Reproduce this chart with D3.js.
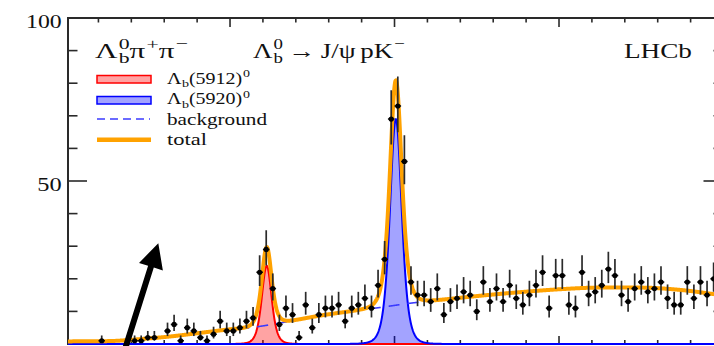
<!DOCTYPE html>
<html>
<head>
<meta charset="utf-8">
<script src="https://cdn.jsdelivr.net/npm/d3@7/dist/d3.min.js"></script>
<style>
  html, body { margin: 0; padding: 0; background: #fff; overflow: hidden; }
  text { font-family: "Liberation Serif", "DejaVu Serif", serif; fill: #111; }
</style>
</head>
<body>
<svg id="chart" width="714" height="346"></svg>
<script>
// ---- histogram of m(Λb0 π+ π−): 0.4 MeV bins starting at 5900.0 MeV ----
const binLow = 5900.0;
const binWidth = 0.4;
const counts = [
  null, null, null, null, null, 1, null, null, null, null,
  1, 1, 2, 2, null, 4, 6, 1, 5, 4,
  2, 1, 3, 7, 4, 4, 5, 7, 8, 22,
  29, 17, 6, 11, 9, 2, 12, 5, 9, 11,
  11, 12, 7, 11, 12, 14, 11, 18, 26, 69,
  73, 56, 19, 15, 15, 13, 17, 9, 13, 14,
  16, 15, 10, 19, 13, 17, 13, 18, 14, 12,
  15, 18, 22, 11, 21, 21, 12, 11, 22, 15,
  16, 18, 23, 21, 15, 13, 17, 19, 16, 17,
  19, 14, 12, 12, 19, 14, 19, 15, 20
];

// ---- fit: smooth background (knots) + two narrow signal peaks ----
const bgMass  = [5900.15, 5902.70, 5904.53, 5906.35, 5908.17, 5910.00, 5911.21, 5912.55,
                 5913.65, 5915.47, 5917.29, 5919.12, 5920.94, 5922.76, 5925.20, 5927.63,
                 5930.06, 5932.49, 5934.92, 5937.35, 5940.00];
const bgYield = [0.8, 0.9, 1.5, 2.3, 3.4, 4.5, 5.0, 6.0,
                 7.0, 8.7, 10.0, 11.2, 12.5, 13.5, 14.8, 15.9,
                 16.8, 17.3, 17.3, 16.6, 14.9];
const peakNames  = ["Λb(5912)0", "Λb(5920)0"];
const peakMass   = [5912.23, 5920.08];
const peakHeight = [24, 69];
const peakWidth  = [0.69, 0.83];

// ---- axis ticks ----
const yMajor = [0, 50, 100];
const yLabels = ["100", "50"];
const yMinor = [10, 20, 30, 40, 60, 70, 80, 90];
const xMajor = [5910, 5920, 5930];
const xMinor = [5902, 5904, 5906, 5908, 5912, 5914, 5916, 5918, 5922, 5924, 5926, 5928,
                5932, 5934, 5936, 5938];

// ---- annotation arrow (tail, tip) in mass / yield units ----
const arrowTail = [5903.62, -1.5];
const arrowTip  = [5905.64, 30.9];

const svg = d3.select("#chart");
const L = 68, R = 723.5, T = 18, B = 344;
const x = d3.scaleLinear().domain([5900.15, 5940]).range([L, R]);
const y = d3.scaleLinear().domain([0, 100]).range([B, T]);

svg.append("defs").append("clipPath").attr("id", "plotclip")
  .append("rect").attr("x", L).attr("y", T - 2).attr("width", R - L).attr("height", B - T + 4);

// monotone cubic interpolation of the background knots
function makeMonotone(xs, ys) {
  const n = xs.length, d = [], m = new Array(n);
  for (let i = 0; i < n - 1; i++) d.push((ys[i + 1] - ys[i]) / (xs[i + 1] - xs[i]));
  m[0] = d[0]; m[n - 1] = d[n - 2];
  for (let i = 1; i < n - 1; i++) m[i] = (d[i - 1] * d[i] <= 0) ? 0 : (d[i - 1] + d[i]) / 2;
  for (let i = 0; i < n - 1; i++) {
    if (d[i] === 0) { m[i] = m[i + 1] = 0; continue; }
    const a = m[i] / d[i], b = m[i + 1] / d[i], s = a * a + b * b;
    if (s > 9) { const t = 3 / Math.sqrt(s); m[i] = t * a * d[i]; m[i + 1] = t * b * d[i]; }
  }
  return v => {
    let i = d3.bisectRight(xs, v) - 1;
    i = Math.max(0, Math.min(n - 2, i));
    const h = xs[i + 1] - xs[i], t = (v - xs[i]) / h;
    const t2 = t * t, t3 = t2 * t;
    return (2 * t3 - 3 * t2 + 1) * ys[i] + (t3 - 2 * t2 + t) * h * m[i] +
           (-2 * t3 + 3 * t2) * ys[i + 1] + (t3 - t2) * h * m[i + 1];
  };
}
const bgFn = makeMonotone(bgMass, bgYield);
const peakFn = (i, m) => peakHeight[i] * Math.pow(1 + Math.pow((m - peakMass[i]) / peakWidth[i], 2), -3);

const grid = d3.range(5900.15, 5940.001, 0.02);
const curve = grid.map(m => ({ m, bg: bgFn(m), s0: peakFn(0, m), s1: peakFn(1, m) }));

// ---- frame and ticks ----
const frame = svg.append("g");
const tickColor = "#2a2a2a";
function ticks(vals, orient, len) {
  vals.forEach(v => {
    let x1, y1, x2, y2;
    if (orient === "left")   { x1 = L; x2 = L + len; y1 = y2 = y(v); }
    if (orient === "right")  { x1 = R; x2 = R - len; y1 = y2 = y(v); }
    if (orient === "top")    { y1 = T; y2 = T + len; x1 = x2 = x(v); }
    if (orient === "bottom") { y1 = B; y2 = B - len; x1 = x2 = x(v); }
    frame.append("line").attr("x1", x1).attr("y1", y1).attr("x2", x2).attr("y2", y2)
      .attr("stroke", tickColor).attr("stroke-width", 1.6);
  });
}
ticks(yMajor, "left", 19); ticks(yMinor, "left", 9.5);
ticks(yMajor, "right", 20); ticks(yMinor, "right", 10);
ticks(xMajor, "top", 9); ticks(xMinor, "top", 4.5);
ticks(xMajor, "bottom", 8); ticks(xMinor, "bottom", 4);
frame.append("rect").attr("x", L).attr("y", T).attr("width", R - L).attr("height", B - T)
  .attr("fill", "none").attr("stroke", tickColor).attr("stroke-width", 2);

// y tick labels
const labW = { "100": 35.7, "50": 24.4 };
yLabels.forEach(s => {
  svg.append("text").attr("x", 61.7).attr("y", y(+s) + 10.2)
    .attr("text-anchor", "end").attr("font-size", 19.5)
    .attr("textLength", labW[s]).attr("lengthAdjust", "spacingAndGlyphs").text(s);
});

// ---- fit components ----
const plot = svg.append("g").attr("clip-path", "url(#plotclip)");
const area = key => d3.area().x(d => x(d.m)).y0(y(0)).y1(d => y(d[key]));
const line = fn => d3.line().x(d => x(d.m)).y(d => y(fn(d)));

plot.append("path").datum(curve).attr("d", area("s0")).attr("fill", "rgba(255,0,0,0.36)");
plot.append("path").datum(curve).attr("d", area("s1")).attr("fill", "rgba(0,0,255,0.36)");
plot.append("path").datum(curve).attr("d", line(d => d.s0))
  .attr("fill", "none").attr("stroke", "#ff0000").attr("stroke-width", 2);
plot.append("path").datum(curve).attr("d", line(d => d.s1))
  .attr("fill", "none").attr("stroke", "#0000ff").attr("stroke-width", 2);
plot.append("path").datum(curve).attr("d", line(d => d.bg))
  .attr("fill", "none").attr("stroke", "#3b3bff").attr("stroke-width", 1.6)
  .attr("stroke-dasharray", "11,8");
plot.append("path").datum(curve).attr("d", line(d => d.bg + d.s0 + d.s1))
  .attr("fill", "none").attr("stroke", "#ffa200").attr("stroke-width", 4)
  .attr("stroke-linejoin", "round");

// ---- data points with Poisson error bars ----
const pts = counts.map((n, k) => ({ n, m: binLow + (k + 0.5) * binWidth }))
  .filter(d => d.n !== null);
const dataG = plot.append("g");
pts.forEach(d => {
  const lo = d.n + 0.5 - Math.sqrt(d.n + 0.25);
  const hi = d.n + 0.5 + Math.sqrt(d.n + 0.25);
  dataG.append("line").attr("x1", x(d.m)).attr("x2", x(d.m))
    .attr("y1", y(lo)).attr("y2", y(hi)).attr("stroke", "#2b2b2b").attr("stroke-width", 1.7);
  dataG.append("line").attr("x1", x(d.m - binWidth / 2)).attr("x2", x(d.m + binWidth / 2))
    .attr("y1", y(d.n)).attr("y2", y(d.n)).attr("stroke", "#111").attr("stroke-width", 1.5);
  dataG.append("circle").attr("cx", x(d.m)).attr("cy", y(d.n)).attr("r", 2.6).attr("fill", "#000");
});

// ---- arrow ----
(function () {
  const x0 = x(arrowTail[0]), y0 = y(arrowTail[1]), x1 = x(arrowTip[0]), y1 = y(arrowTip[1]);
  const len = Math.hypot(x1 - x0, y1 - y0), ux = (x1 - x0) / len, uy = (y1 - y0) / len;
  const px = -uy, py = ux, hl = 24.5, hw = 12.5, sw = 3;
  const bx = x1 - ux * hl, by = y1 - uy * hl;
  const p = [
    [x0 + px * sw, y0 + py * sw], [bx + px * sw, by + py * sw], [bx + px * hw, by + py * hw],
    [x1, y1], [bx - px * hw, by - py * hw], [bx - px * sw, by - py * sw], [x0 - px * sw, y0 - py * sw]
  ];
  svg.append("path").attr("d", "M" + p.map(q => q.join(",")).join("L") + "Z").attr("fill", "#000");
})();

// ---- math-style text helper ----
function mathText(x0, y0, parts, size, targetW) {
  const g = svg.append("g");
  let cx = 0;
  const put = (s, px, py, fs) => g.append("text").attr("x", px).attr("y", py).attr("font-size", fs).text(s);
  parts.forEach(p => {
    const kind = p[0];
    if (kind === "n") { cx += put(p[1], cx, 0, size).node().getComputedTextLength(); }
    else if (kind === "sup") { cx += size * 0.04 + put(p[1], cx + size * 0.04, -size * 0.4, size * 0.7).node().getComputedTextLength(); }
    else if (kind === "sub") { cx += size * 0.02 + put(p[1], cx + size * 0.02, size * 0.22, size * 0.7).node().getComputedTextLength(); }
    else if (kind === "ss") {
      const a = put(p[1], cx + size * 0.04, -size * 0.4, size * 0.7).node().getComputedTextLength();
      const b = put(p[2], cx + size * 0.04, size * 0.24, size * 0.7).node().getComputedTextLength();
      cx += size * 0.04 + Math.max(a, b);
    }
    else if (kind === "sp") { cx += p[1] * size; }
  });
  const sx = targetW ? targetW / cx : 1;
  g.attr("transform", `translate(${x0},${y0}) scale(${sx},1)`);
  return g;
}

mathText(95, 57.5, [["n", "Λ"], ["ss", "0", "b"], ["n", "π"], ["sup", "+"], ["n", "π"], ["sup", "−"]], 22, 93);
mathText(253, 57.5, [["n", "Λ"], ["ss", "0", "b"], ["sp", 0.2], ["n", "→"], ["sp", 0.2], ["n", "J/ψ"],
                     ["sp", 0.18], ["n", "pK"], ["sup", "−"]], 22, 152);
mathText(624, 58, [["n", "LHCb"]], 22, 68);

// ---- legend ----
const leg = svg.append("g");
leg.append("rect").attr("x", 97).attr("y", 75.5).attr("width", 54).attr("height", 7.5)
  .attr("fill", "rgba(255,0,0,0.36)").attr("stroke", "#ff0000").attr("stroke-width", 1.5);
leg.append("rect").attr("x", 97).attr("y", 96.5).attr("width", 54).attr("height", 7.5)
  .attr("fill", "rgba(0,0,255,0.36)").attr("stroke", "#0000ff").attr("stroke-width", 1.5);
leg.append("line").attr("x1", 97).attr("x2", 150).attr("y1", 119).attr("y2", 119)
  .attr("stroke", "#3b3bff").attr("stroke-width", 1.6).attr("stroke-dasharray", "8,5");
leg.append("line").attr("x1", 97).attr("x2", 151).attr("y1", 139.7).attr("y2", 139.7)
  .attr("stroke", "#ffa200").attr("stroke-width", 4.5);

peakNames.forEach((nm, i) => {
  const inside = nm.slice(2, nm.length - 1);
  mathText(167, 83.5 + i * 20.6, [["n", "Λ"], ["sub", "b"], ["n", "(" + inside.replace(/[()]/g, "") + ")"], ["sup", "0"]], 16, 83);
});
mathText(167, 124.5, [["n", "background"]], 16, 100);
mathText(167, 145, [["n", "total"]], 16, 40);
</script>
</body>
</html>
